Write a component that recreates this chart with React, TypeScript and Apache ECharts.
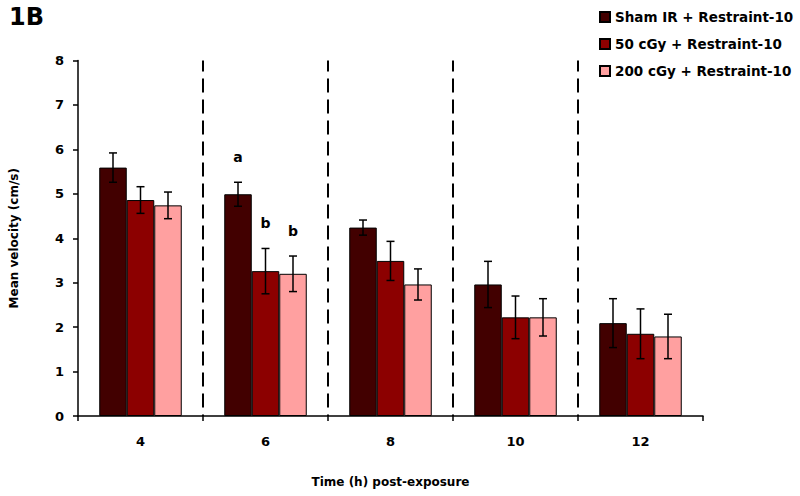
import React, { useEffect, useRef } from "react";
import * as echarts from "echarts";

const categories = ["4", "6", "8", "10", "12"];
const seriesNames = ["Sham IR + Restraint-10", "50 cGy + Restraint-10", "200 cGy + Restraint-10"];
const colors = ["#420000", "#8c0000", "#ffa0a0"];
const shamValues = [5.59, 4.99, 4.24, 2.96, 2.09];
const shamErrors = [0.33, 0.27, 0.17, 0.52, 0.55];
const cgy50Values = [4.86, 3.26, 3.49, 2.22, 1.85];
const cgy50Errors = [0.3, 0.51, 0.44, 0.48, 0.56];
const cgy200Values = [4.74, 3.2, 2.96, 2.22, 1.79];
const cgy200Errors = [0.3, 0.4, 0.35, 0.42, 0.5];
const annotations = [
  ["", "a", "", "", ""],
  ["", "b", "", "", ""],
  ["", "b", "", "", ""],
];
const yTicks = { min: 0, max: 8, interval: 1 };

const FONT = "'DejaVu Sans', Verdana, sans-serif";
const BAR_W = 27.5;

export default function App() {
  const ref = useRef<HTMLDivElement>(null);
  useEffect(() => {
    if (!ref.current) return;
    const chart = echarts.init(ref.current, undefined, { renderer: "svg" });
    const values = [shamValues, cgy50Values, cgy200Values];
    const errors = [shamErrors, cgy50Errors, cgy200Errors];

    const barSeries = values.map((vals, i) => ({
      type: "bar",
      name: seriesNames[i],
      data: vals,
      barWidth: BAR_W,
      barGap: "0%",
      itemStyle: { color: colors[i], borderColor: "#000", borderWidth: 1 },
    }));

    const errSeries = values.map((vals, i) => ({
      type: "custom",
      name: "err" + i,
      z: 10,
      data: vals.map((v, j) => [j, v, errors[i][j], annotations[i][j]]),
      encode: { x: 0, y: 1 },
      renderItem: (params: any, api: any) => {
        const cat = api.value(0);
        const v = api.value(1);
        const e = api.value(2);
        const ann = annotations[i][params.dataIndex];
        const top = api.coord([cat, v + e]);
        const bot = api.coord([cat, v - e]);
        const x = top[0] + (i - 1) * BAR_W;
        const cap = 4;
        const st = { stroke: "#000", lineWidth: 1.5 };
        const children: any[] = [
          { type: "line", shape: { x1: x, y1: top[1], x2: x, y2: bot[1] }, style: st },
          { type: "line", shape: { x1: x - cap, y1: top[1], x2: x + cap, y2: top[1] }, style: st },
          { type: "line", shape: { x1: x - cap, y1: bot[1], x2: x + cap, y2: bot[1] }, style: st },
        ];
        if (ann) {
          children.push({
            type: "text",
            style: {
              text: ann,
              x: x,
              y: top[1] - 18,
              textAlign: "center",
              textVerticalAlign: "bottom",
              font: `bold 14px ${FONT}`,
              fill: "#000",
            },
          });
        }
        return { type: "group", children };
      },
    }));

    chart.setOption({
      animation: false,
      backgroundColor: "#fff",
      grid: { left: 76, right: 97, top: 60.5, bottom: 80 },
      legend: {
        data: seriesNames,
        orient: "vertical",
        left: 594,
        top: 5,
        itemWidth: 10,
        itemHeight: 10,
        itemGap: 13,
        icon: "rect",
        textStyle: { fontFamily: FONT, fontWeight: "bold", fontSize: 13.5, color: "#000" },
      },
      graphic: [
        {
          type: "text",
          left: 9,
          top: 5,
          style: {
            text: "1B",
            font: `bold 24px ${FONT}`,
            fill: "#000",
          },
        },
      ],
      xAxis: {
        type: "category",
        data: categories,
        boundaryGap: true,
        name: "Time (h) post-exposure",
        nameLocation: "middle",
        nameGap: 60,
        nameTextStyle: { fontFamily: FONT, fontWeight: "bold", fontSize: 12, color: "#000" },
        axisLine: { lineStyle: { color: "#000", width: 1.5 } },
        axisTick: { show: true, length: 5, alignWithLabel: false, lineStyle: { color: "#000", width: 1.5 } },
        axisLabel: { fontFamily: FONT, fontWeight: "bold", fontSize: 13, color: "#000", margin: 19 },
        splitLine: {
          show: true,
          showMinLine: false,
          showMaxLine: false,
          lineStyle: { color: "#000", width: 2, type: [14, 7], dashOffset: 3 },
        },
      },
      yAxis: {
        type: "value",
        min: yTicks.min,
        max: yTicks.max,
        interval: yTicks.interval,
        name: "Mean velocity (cm/s)",
        nameLocation: "middle",
        nameGap: 58,
        nameTextStyle: { fontFamily: FONT, fontWeight: "bold", fontSize: 12, color: "#000" },
        axisLine: { show: true, lineStyle: { color: "#000", width: 1.5 } },
        axisTick: { show: true, length: 5, lineStyle: { color: "#000", width: 1.5 } },
        axisLabel: { fontFamily: FONT, fontWeight: "bold", fontSize: 13, color: "#000", margin: 14 },
        splitLine: { show: false },
      },
      series: [...barSeries, ...errSeries],
    });
    return () => chart.dispose();
  }, []);
  return <div ref={ref} style={{ width: 800, height: 496, position: "absolute", left: 0, top: 0 }} />;
}
